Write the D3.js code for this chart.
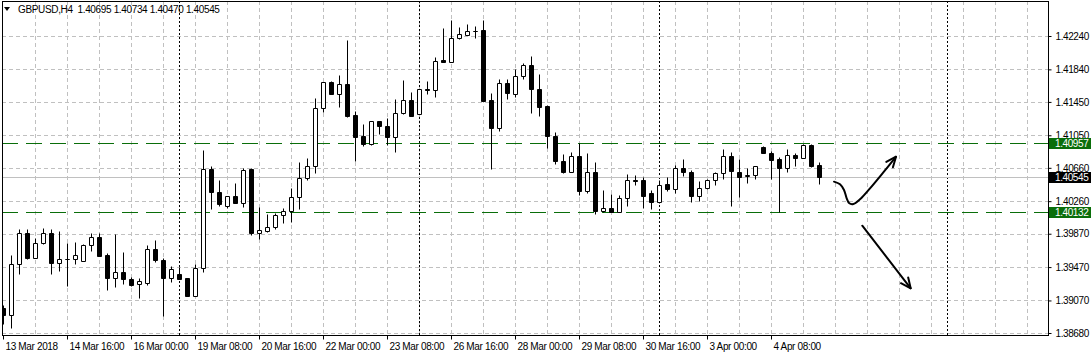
<!DOCTYPE html>
<html><head><meta charset="utf-8">
<script src="https://cdn.jsdelivr.net/npm/d3@7"></script>
<style>
body{margin:0;background:#fff;}
svg{display:block;font-family:"Liberation Sans",Arial,sans-serif;}
</style></head><body>
<svg id="c" width="1091" height="357"></svg>
<script>
const symbolTitle = "GBPUSD,H4";
const opens = [1.38976,1.38892,1.39503,1.39875,1.39582,1.39755,1.39875,1.39523,1.39563,1.39563,
1.39547,1.39731,1.39827,1.39611,1.39343,1.39407,1.39324,1.39264,1.39283,1.39683,
1.39555,1.39343,1.39384,1.39336,1.39127,1.39455,1.40642,1.40366,1.40206,1.40322,
1.40242,1.40642,1.39882,1.39906,1.39954,1.40091,1.40139,1.40307,1.40534,1.40678,
1.41373,1.41685,1.41541,1.41668,1.41293,1.41041,1.40945,1.41218,1.41158,1.41033,
1.41321,1.41473,1.41309,1.41601,1.41593,1.41949,1.41925,1.42212,1.42248,1.42304,
1.42312,1.41473,1.41141,1.41673,1.41541,1.41757,1.41889,1.41601,1.41401,1.41041,
1.40742,1.40613,1.40802,1.40386,1.40606,1.40146,1.40175,1.40127,1.40295,1.40510,
1.40510,1.40354,1.40247,1.40466,1.40402,1.40654,1.40606,1.40326,1.40414,1.40510,
1.40594,1.40802,1.40613,1.40562,1.40570,1.40909,1.40834,1.40762,1.40654,1.40814,
1.40774,1.40933,1.40695];
const highs = [1.39016,1.39615,1.39927,1.39927,1.39819,1.39942,1.39927,1.39903,1.39762,1.39767,
1.39747,1.39875,1.39875,1.39635,1.39867,1.39654,1.39351,1.39336,1.39731,1.39795,
1.39582,1.39487,1.39475,1.39338,1.39503,1.40874,1.40682,1.40514,1.40324,1.40478,
1.40654,1.40654,1.40190,1.40106,1.40115,1.40175,1.40414,1.40733,1.40781,1.41493,
1.41687,1.41701,1.41773,1.42192,1.41341,1.41182,1.41220,1.41220,1.41257,1.41485,
1.41713,1.41572,1.41603,1.41697,1.41985,1.42332,1.42432,1.42344,1.42384,1.42360,
1.42432,1.41553,1.41725,1.41725,1.41844,1.41920,1.42000,1.41785,1.41409,1.41089,
1.40826,1.40846,1.40961,1.40838,1.40730,1.40394,1.40346,1.40334,1.40586,1.40578,
1.40550,1.40394,1.40514,1.40553,1.40694,1.40762,1.40634,1.40502,1.40522,1.40613,
1.40889,1.40850,1.40766,1.40654,1.40680,1.40921,1.40862,1.40786,1.40882,1.40834,
1.40950,1.40942,1.40734];
const lows = [1.38784,1.38736,1.39387,1.39571,1.39580,1.39743,1.39387,1.39427,1.39243,1.39511,
1.39545,1.39666,1.39604,1.39195,1.39235,1.39267,1.39243,1.39103,1.39255,1.39535,
1.38887,1.39295,1.39327,1.39125,1.39125,1.39415,1.40166,1.40206,1.40182,1.40234,
1.40194,1.39855,1.39807,1.39894,1.39927,1.40002,1.40014,1.40166,1.40514,1.40601,
1.41333,1.41539,1.41393,1.41275,1.40745,1.40925,1.40933,1.41065,1.40937,1.40846,
1.41305,1.41277,1.41307,1.41541,1.41512,1.41930,1.41923,1.42210,1.42246,1.42220,
1.41462,1.40646,1.41101,1.41481,1.41512,1.41721,1.41321,1.41285,1.40901,1.40702,
1.40594,1.40611,1.40334,1.40354,1.40103,1.40134,1.40125,1.40125,1.40206,1.40450,
1.40175,1.40163,1.40235,1.40386,1.40354,1.40565,1.40254,1.40262,1.40412,1.40450,
1.40522,1.40206,1.40314,1.40482,1.40530,1.40832,1.40530,1.40130,1.40613,1.40685,
1.40772,1.40673,1.40470];
const closes = [1.38896,1.39503,1.39875,1.39582,1.39755,1.39875,1.39523,1.39563,1.39565,1.39611,
1.39731,1.39827,1.39606,1.39343,1.39407,1.39331,1.39255,1.39303,1.39683,1.39559,
1.39343,1.39443,1.39331,1.39127,1.39455,1.40642,1.40366,1.40223,1.40322,1.40242,
1.40630,1.39882,1.39915,1.39954,1.40091,1.40139,1.40307,1.40534,1.40678,1.41373,
1.41685,1.41541,1.41668,1.41277,1.41033,1.40945,1.41218,1.41158,1.41033,1.41321,
1.41473,1.41285,1.41601,1.41593,1.41944,1.41932,1.42212,1.42264,1.42296,1.42296,
1.41464,1.41141,1.41673,1.41560,1.41757,1.41889,1.41601,1.41393,1.41045,1.40745,
1.40613,1.40802,1.40386,1.40606,1.40146,1.40175,1.40127,1.40295,1.40510,1.40506,
1.40326,1.40247,1.40450,1.40402,1.40654,1.40606,1.40326,1.40414,1.40510,1.40594,
1.40802,1.40625,1.40546,1.40578,1.40678,1.40834,1.40750,1.40654,1.40814,1.40774,
1.40933,1.40685,1.40545];
const timeTickIndex = [0,8,16,24,32,40,48,56,64,72,80,88,96];
const timeTickLabels = ["13 Mar 2018","14 Mar 16:00","16 Mar 00:00","19 Mar 08:00","20 Mar 16:00",
"22 Mar 00:00","23 Mar 08:00","26 Mar 16:00","28 Mar 00:00","29 Mar 08:00","30 Mar 16:00",
"3 Apr 00:00","4 Apr 08:00"];
const priceTicks = [1.42240,1.41840,1.41450,1.41050,1.40660,1.40260,1.39870,1.39470,1.39070,1.38680];
const weekSeparators = [22,52,82,118];
const resistanceLevel = 1.40957;
const supportLevel = 1.40132;
const bidLevel = 1.40545;
// hand-drawn annotations, in [bar index, price]
const upArrowPath = [[103.875,1.40494],[104.625,1.40462],[105.125,1.40394],[105.46,1.40295],[105.79,1.40235],
  [106.29,1.40226],[107.125,1.40283],[108.375,1.40414],[110.04,1.40606],[111.625,1.40793]];
const downArrowPath = [[107.41,1.39966],[113.46,1.39216]];

const svg = d3.select("#c");
const W = 1091, H = 357;
const pLeft = 2, pTop = 1, pRight = 1048, pBottom = 335;

const x = d3.scaleLinear().domain([0,130]).range([3,1043]);
const y = d3.scaleLinear().domain([1.38680,1.42240]).range([333,36]);

svg.append("rect").attr("width",W).attr("height",H).attr("fill","#fff");

svg.append("defs").append("clipPath").attr("id","plot")
  .append("rect").attr("x",pLeft+1).attr("y",pTop+1).attr("width",pRight-pLeft-1).attr("height",pBottom-pTop-1);

const plot = svg.append("g").attr("clip-path","url(#plot)");
const gridColor = "#c0c0c0";

// horizontal grid
plot.selectAll("line.hg").data(priceTicks).join("line")
  .attr("x1",pLeft).attr("x2",pRight)
  .attr("y1",d=>Math.round(y(d))+0.5).attr("y2",d=>Math.round(y(d))+0.5)
  .attr("stroke",gridColor).attr("stroke-dasharray","4,3");

// vertical grid (every 4 bars)
const vIdx = d3.range(4,131,4);
plot.selectAll("line.vg").data(vIdx).join("line")
  .attr("x1",d=>Math.round(x(d))+0.5).attr("x2",d=>Math.round(x(d))+0.5)
  .attr("y1",pTop).attr("y2",pBottom)
  .attr("stroke",gridColor).attr("stroke-dasharray","4,3");

// week separators
plot.selectAll("line.sep").data(weekSeparators).join("line")
  .attr("x1",d=>Math.round(x(d))+0.5).attr("x2",d=>Math.round(x(d))+0.5)
  .attr("y1",pTop).attr("y2",pBottom)
  .attr("stroke","#000").attr("stroke-dasharray","2,2");

// bid line
plot.append("line").attr("x1",pLeft).attr("x2",pRight)
  .attr("y1",Math.round(y(bidLevel))+0.5).attr("y2",Math.round(y(bidLevel))+0.5)
  .attr("stroke","#c0c0c0");

// green levels
const green = "#0a6e0a";
plot.selectAll("line.lvl").data([resistanceLevel,supportLevel]).join("line")
  .attr("x1",pLeft).attr("x2",pRight)
  .attr("y1",d=>Math.round(y(d))+0.5).attr("y2",d=>Math.round(y(d))+0.5)
  .attr("stroke",green).attr("stroke-width",1.2).attr("stroke-dasharray","16,8");

// candles
const bars = opens.map((o,i)=>({i,o,h:highs[i],l:lows[i],c:closes[i]}));
const cg = plot.append("g");
cg.selectAll("line.wick").data(bars).join("line")
  .attr("x1",d=>Math.round(x(d.i))+0.5).attr("x2",d=>Math.round(x(d.i))+0.5)
  .attr("y1",d=>Math.round(y(d.h))+0.5).attr("y2",d=>Math.round(y(d.l))+0.5)
  .attr("stroke","#000");
cg.selectAll("path.body").data(bars).join("path")
  .attr("d",d=>{
    const col = Math.round(x(d.i));
    const x0 = col-1.5, x1 = col+2.5;
    const t = Math.round(y(Math.max(d.o,d.c)))+0.5;
    const b = Math.round(y(Math.min(d.o,d.c)))+0.5;
    return `M${x0},${t}H${x1}V${b}H${x0}Z`;
  })
  .attr("fill",d=>d.c<d.o?"#000":"#fff")
  .attr("stroke","#000");

// annotations
const ag = plot.append("g").attr("fill","none").attr("stroke","#000").attr("stroke-width",2)
  .attr("stroke-linecap","round").attr("stroke-linejoin","round");
ag.append("path").attr("d",d3.line().x(d=>x(d[0])).y(d=>y(d[1])).curve(d3.curveCatmullRom)(upArrowPath));
ag.append("path").attr("d",d3.line().x(d=>x(d[0])).y(d=>y(d[1]))(downArrowPath));
function head(pts, len, ang){
  const p = pts[pts.length-1], q = pts[pts.length-2];
  const px=x(p[0]), py=y(p[1]), qx=x(q[0]), qy=y(q[1]);
  const a = Math.atan2(py-qy, px-qx) + Math.PI;
  const w1 = [px+len*Math.cos(a+ang), py+len*Math.sin(a+ang)];
  const w2 = [px+len*Math.cos(a-ang), py+len*Math.sin(a-ang)];
  return `M${w1[0]},${w1[1]}L${px},${py}L${w2[0]},${w2[1]}`;
}
ag.append("path").attr("d",head(upArrowPath,11,0.4));
ag.append("path").attr("d",head(downArrowPath,11,0.43));

// frame
svg.append("rect").attr("x",pLeft+0.5).attr("y",pTop+0.5).attr("width",pRight-pLeft).attr("height",pBottom-pTop)
  .attr("fill","none").attr("stroke","#000");

// price axis
const yAxis = d3.axisRight(y).tickValues(priceTicks).tickFormat(d3.format(".5f"))
  .tickSize(3).tickSizeOuter(0).tickPadding(4);
const ya = svg.append("g").attr("transform",`translate(${pRight+0.5},0)`).call(yAxis);
ya.select(".domain").remove();
ya.selectAll("text").attr("font-size",10).attr("letter-spacing","-0.4px").attr("fill","#000")
  .attr("font-family","Liberation Sans, Arial, sans-serif");
ya.selectAll("line").attr("stroke","#000");

// time axis
const xAxis = d3.axisBottom(x).tickValues(timeTickIndex).tickFormat((d,i)=>timeTickLabels[i])
  .tickSize(4).tickSizeOuter(0).tickPadding(3);
const xa = svg.append("g").attr("transform",`translate(0,${pBottom+0.5})`).call(xAxis);
xa.select(".domain").remove();
xa.selectAll("text").attr("text-anchor","start").attr("dx","2px")
  .attr("font-size",10).attr("letter-spacing","-0.35px").attr("fill","#000")
  .attr("font-family","Liberation Sans, Arial, sans-serif");
xa.selectAll("line").attr("stroke","#000");

// price labels
const tags = [{v:resistanceLevel,bg:green},{v:bidLevel,bg:"#000"},{v:supportLevel,bg:green}];
const tg = svg.append("g");
tags.forEach(t=>{
  const yy = Math.round(y(t.v));
  tg.append("rect").attr("x",pRight+1).attr("y",yy-5).attr("width",W-pRight-1).attr("height",11).attr("fill",t.bg);
  tg.append("text").attr("x",1055).attr("y",yy+4).attr("font-size",10).attr("letter-spacing","-0.4px")
    .attr("fill","#fff").text(d3.format(".5f")(t.v));
});

// header
svg.append("path").attr("d","M4,7L10,7L7,11Z").attr("fill","#000");
svg.append("text").attr("x",18).attr("y",13).attr("font-size",10).attr("letter-spacing","-0.35px")
  .attr("fill","#000").style("white-space","pre")
  .text(`${symbolTitle}  ${d3.format(".5f")(opens[opens.length-1])} ${d3.format(".5f")(highs[highs.length-1])} ${d3.format(".5f")(lows[lows.length-1])} ${d3.format(".5f")(closes[closes.length-1])}`);
</script>
</body></html>
